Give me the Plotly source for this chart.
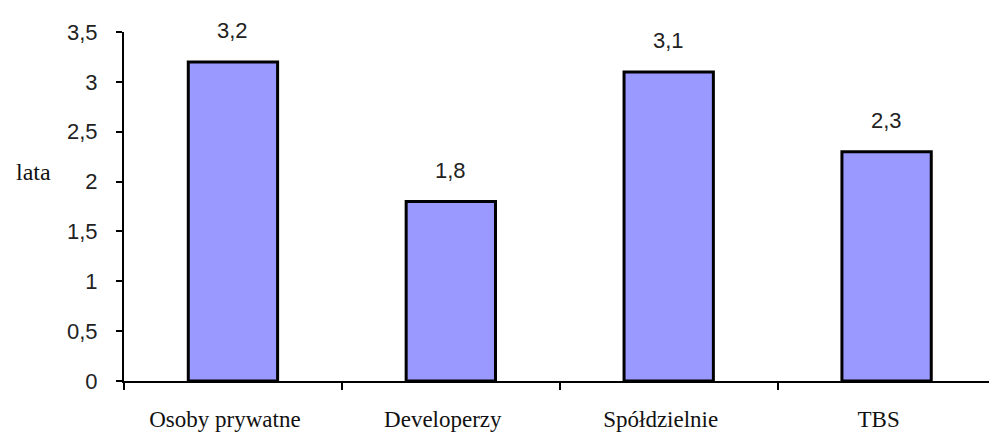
import plotly.graph_objects as go

# Average waiting time by investor type
categories = ["Osoby prywatne", "Developerzy", "Spółdzielnie", "TBS"]
values = [3.2, 1.8, 3.1, 2.3]
y_ticks = [0, 0.5, 1, 1.5, 2, 2.5, 3, 3.5]
y_tick_labels = [f"{v:g}".replace(".", ",") for v in y_ticks]
value_labels = [f"{v:.1f}".replace(".", ",") for v in values]

fig = go.Figure()
fig.add_trace(go.Bar(
    x=categories,
    y=values,
    width=0.41,
    marker=dict(color="#9999FF", line=dict(color="#000000", width=3)),
    hoverinfo="skip",
))

# value labels above the bars
for cat, val, lab in zip(categories, values, value_labels):
    fig.add_annotation(
        x=cat, y=val, text=lab, showarrow=False,
        yanchor="middle", yshift=31,
        font=dict(family="Liberation Sans, Arial, sans-serif", size=22, color="#222222"),
    )

# axis title placed left of the tick labels
fig.add_annotation(
    xref="paper", yref="paper", x=-0.105, y=0.6,
    text="lata", showarrow=False, xanchor="center", yanchor="middle",
    font=dict(family="Liberation Serif, Times New Roman, serif", size=24, color="#111111"),
)

fig.update_layout(
    width=989, height=432,
    margin=dict(l=124, r=0, t=32, b=51),
    plot_bgcolor="white", paper_bgcolor="white",
    showlegend=False,
    bargap=0.59,
)
fig.update_xaxes(
    range=[-0.5, 3.47],
    showgrid=False, zeroline=False,
    showline=True, linecolor="#000000", linewidth=1.5,
    ticks="outside", tickson="boundaries", ticklen=7, tickwidth=1.5, tickcolor="#000000",
    ticklabelstandoff=17, ticklabelshift=-8,
    tickfont=dict(family="Liberation Serif, Times New Roman, serif", size=23, color="#111111"),
)
fig.update_yaxes(
    range=[0, 3.5],
    tickvals=y_ticks, ticktext=y_tick_labels,
    showgrid=False, zeroline=False,
    showline=True, linecolor="#000000", linewidth=2,
    ticks="outside", ticklen=6, tickwidth=1.5, tickcolor="#000000",
    ticklabelstandoff=14,
    tickfont=dict(family="Liberation Sans, Arial, sans-serif", size=22, color="#222222"),
)

fig.write_html("out.html")
